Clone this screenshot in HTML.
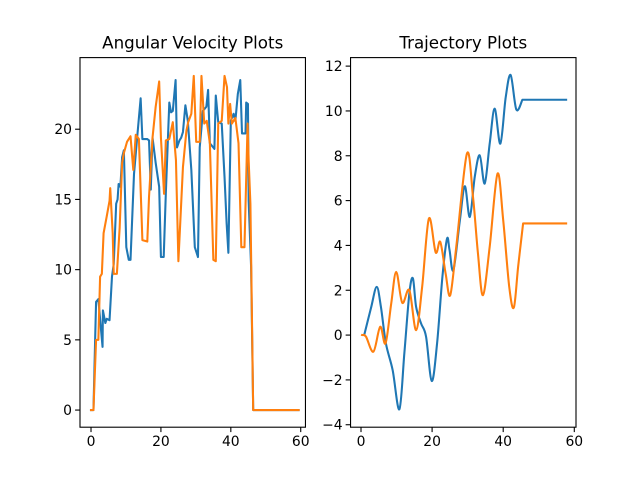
<!DOCTYPE html>
<html><head><meta charset="utf-8"><style>
html,body{margin:0;padding:0;background:#fff;}
svg{display:block;font-family:"DejaVu Sans","Liberation Sans",sans-serif;}
</style></head><body>
<svg id="fig" width="640" height="480" viewBox="0 0 640 480" xmlns="http://www.w3.org/2000/svg">
<rect width="640" height="480" fill="#fff"/>
</svg>
<script>
// Left chart: angular velocity
const avBlueX=[0,0.7,1.2,1.45,2.1,3.3,3.4,4.1,4.5,5.3,6,6.5,7.2,7.6,7.9,8.4,8.9,9.4,10.1,10.8,11.3,12.3,13.2,14.2,14.7,16.1,16.6,17.1,17.6,18.5,19.5,20,20.8,21.4,22.4,22.9,23.4,24.2,24.6,25.3,25.8,26.3,27,27.7,28.7,29.7,30.6,31.1,31.6,32,33,33.5,34,35.3,35.7,36.4,37.4,38.2,38.8,39.3,40,40.8,41.3,42,42.7,43.2,44.2,44.4,44.9,45.1,45.8,46.4,59.4];
const avBlueY=[0,0,5.2,7.7,7.9,4.5,7.1,6.2,6.5,6.4,9.5,10.4,14.7,15,16.1,15.9,18,18.5,11.6,10.7,10.7,16.8,19.4,22.2,19.3,19.3,19.2,15.7,19.4,17.6,15.9,10.9,10.9,15.4,21.9,21.2,21.3,23.5,18.7,19.2,19.4,19.8,21.7,20.6,17.1,11.6,10.9,18.7,20.1,21.3,21.6,22.8,19,18.6,22.4,20.5,20.4,16.6,13.3,11.2,20.6,21.1,20.6,22.5,23.5,19.7,19.7,21.9,21.8,14.9,10.2,0,0];
const avOrangeX=[0,0.7,1.45,2.1,2.6,3.1,3.6,4.5,5.3,5.5,6.2,6.5,7.4,8.2,8.9,9.4,10.3,11.3,12.1,12.8,13.7,14.7,16.1,16.6,17.6,18.5,19.5,20,20.9,21.4,22.4,23.4,24.3,25,26.3,27.3,27.8,28.7,29.4,30.1,31.1,31.6,32.4,33.1,34,35,35.7,36.4,37.4,38.2,38.9,39.3,39.8,40.3,41.3,42.2,43,43.9,44.8,45.1,45.6,46.4,59.4];
const avOrangeY=[0,0,5,5,9.5,9.7,12.6,13.8,14.9,15.8,12.6,9.7,9.7,13,17.6,18.3,19.1,19.5,17.1,19.6,19.3,12.1,12,15.2,19.4,21.6,23.4,19.4,15.4,19.2,19.3,20.5,17.8,10.6,17.3,19.9,20.5,21.1,23.8,19.1,19.1,23.8,20.4,20.6,19,10.7,10.6,20.4,20.6,23.8,23,20.4,21.8,20.4,20.8,19,11.6,11.6,20.4,17.8,14.7,0,0];
const avXTicks=[0,20,40,60];
const avYTicks=[0,5,10,15,20];
// Right chart: trajectory
const trBlueX=[0.9,2.8,4.4,5.6,7,8.9,10.8,12.2,13.6,14.6,15.5,16.9,18.3,19.9,21.4,22.9,24.2,24.9,26,27.8,29.2,30.6,32,33.4,34.8,36.2,37.6,39.2,40.7,42.1,43.7,45.4,57.7];
const trBlueY=[0,1.2,2.15,1.26,-0.37,-1.56,-3.31,-0.8,1.86,2.53,1.26,0.52,-0.07,-2.05,-0.37,2.6,4.3,3.8,2.9,5.1,6.64,5.27,7.06,8.02,6.76,8.54,10.1,8.54,10.6,11.6,10.06,10.5,10.5];
const trOrangeX=[0.3,1.4,3.5,5.4,6.9,8.5,9.9,11.6,13.6,15.5,17.2,19.1,21,22.3,23.8,25.1,26.8,29.8,31.5,32.9,34.3,36.2,38.4,40,41.7,43,44.2,45.6,57.7];
const trOrangeY=[0,-0.07,-0.74,0.37,-0.37,1.41,2.82,1.44,2,0.22,2.15,5.2,3.69,4.16,2.75,1.78,3.94,8.1,6.17,3.64,1.78,3.94,7.2,5.13,2.15,1.23,3.05,4.98,4.98];
const trXTicks=[0,20,40,60];
const trYTicks=[-4,-2,0,2,4,6,8,10,12];

const NS='http://www.w3.org/2000/svg';
const svg=document.getElementById('fig');
function mk(tag,attrs,parent){const e=document.createElementNS(NS,tag);for(const k in attrs)e.setAttribute(k,attrs[k]);(parent||svg).appendChild(e);return e;}

function pathLinear(P){return P.map((p,i)=>(i?'L':'M')+p[0].toFixed(2)+' '+p[1].toFixed(2)).join(' ');}
function pathSmooth(P,X){
  let d='M'+P[0][0].toFixed(2)+' '+P[0][1].toFixed(2);
  for(let i=0;i<P.length-1;i++){
    const p1=P[i],p2=P[i+1];
    if(X[i+1]-X[i]>5){d+=' L'+p2[0].toFixed(2)+' '+p2[1].toFixed(2);continue;}
    const p0=(i>0&&X[i]-X[i-1]<=5)?P[i-1]:P[i];
    const p3=(i+2<P.length&&X[i+2]-X[i+1]<=5)?P[i+2]:P[i+1];
    const c1=[p1[0]+(p2[0]-p0[0])/6,p1[1]+(p2[1]-p0[1])/6];
    const c2=[p2[0]-(p3[0]-p1[0])/6,p2[1]-(p3[1]-p1[1])/6];
    d+=' C'+c1[0].toFixed(2)+' '+c1[1].toFixed(2)+' '+c2[0].toFixed(2)+' '+c2[1].toFixed(2)+' '+p2[0].toFixed(2)+' '+p2[1].toFixed(2);
  }
  return d;
}

function drawAxes(prefix,title,left,xmin,xmax,ymin,ymax,xt,yt,series,smooth){
  const top=57.6,bottom=427.2,w=225.45;
  const sx=v=>left+(v-xmin)/(xmax-xmin)*w;
  const sy=v=>bottom-(v-ymin)/(ymax-ymin)*(bottom-top);
  const g=mk('g',{});
  
  
  const clipId=prefix+'-clip';
  const cp=mk('clipPath',{id:clipId},g);
  mk('rect',{x:left,y:top,width:w,height:bottom-top},cp);
  series.forEach(s=>{
    const P=s.x.map((v,i)=>[sx(v),sy(s.y[i])]);
    const d=smooth?pathSmooth(P,s.x):pathLinear(P);
    const p=mk('path',{d:d,fill:'none',stroke:s.c,'stroke-width':2.08,'stroke-linejoin':'round','stroke-linecap':'square','clip-path':'url(#'+clipId+')'},g);
    
    
  });
  const fr=mk('rect',{x:left,y:top,width:w,height:bottom-top,fill:'none',stroke:'#000','stroke-width':1.1},g);
  
  
  xt.forEach(v=>{
    const x=sx(v);
    mk('line',{x1:x,x2:x,y1:bottom,y2:bottom+4.9,stroke:'#000','stroke-width':1.1},g);
    const t=mk('text',{x:x,y:bottom+19,'text-anchor':'middle','font-size':13.9,fill:'#000'},g);
    t.textContent=v;
    
    
  });
  yt.forEach(v=>{
    const y=sy(v);
    mk('line',{x1:left-4.9,x2:left,y1:y,y2:y,stroke:'#000','stroke-width':1.1},g);
    const t=mk('text',{x:left-8,y:y+5,'text-anchor':'end','font-size':13.9,fill:'#000'},g);
    t.textContent=v<0?'\u2212'+(-v):v;
    
    
  });
  const tt=mk('text',{x:left+w/2,y:top-9,'text-anchor':'middle','font-size':16.7,fill:'#000'},g);
  tt.textContent=title;
  
  
}
drawAxes('angular-velocity','Angular Velocity Plots',80,-3.15,61.35,-1.22,25.1,avXTicks,avYTicks,
  [{x:avBlueX,y:avBlueY,c:'#1f77b4',n:'angular-velocity-blue-line'},{x:avOrangeX,y:avOrangeY,c:'#ff7f0e',n:'angular-velocity-orange-line'}],false);
drawAxes('trajectory','Trajectory Plots',350.55,-2.94,60.48,-4.11,12.38,trXTicks,trYTicks,
  [{x:trBlueX,y:trBlueY,c:'#1f77b4',n:'trajectory-blue-line'},{x:trOrangeX,y:trOrangeY,c:'#ff7f0e',n:'trajectory-orange-line'}],true);
</script>
</body></html>
